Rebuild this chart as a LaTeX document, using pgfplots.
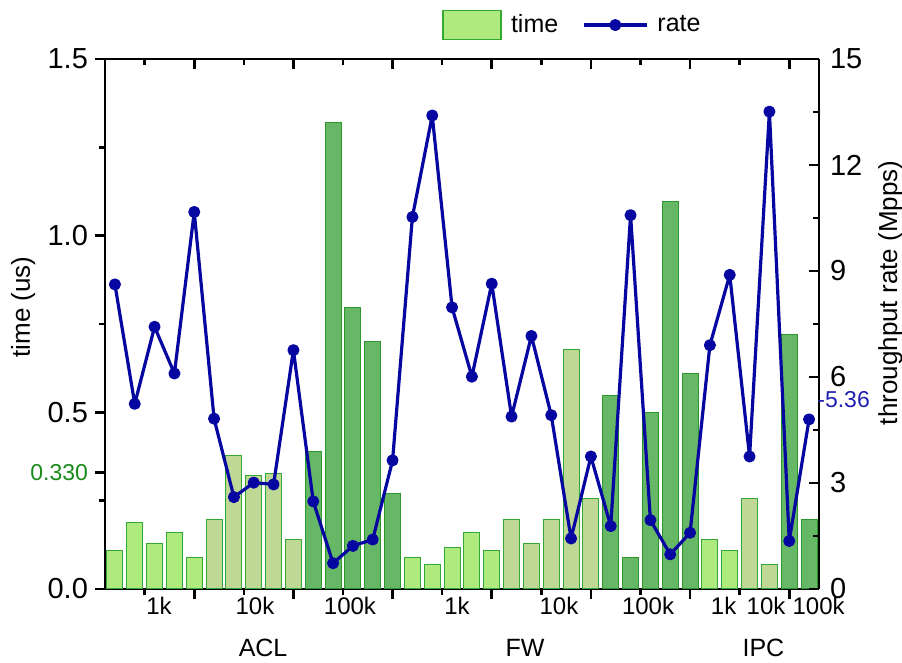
\documentclass[border=0pt]{standalone}
\usepackage{fontspec}
\setmainfont{Liberation Sans}
\usepackage{pgfplots}
\pgfplotsset{compat=1.18}
\usepackage{pgfplotstable}

\definecolor{lightg}{HTML}{AFEA7F}
\definecolor{oliveg}{HTML}{C0D896}
\definecolor{darkg}{HTML}{66B866}
\definecolor{edgeg}{HTML}{34A834}
\definecolor{edged}{HTML}{2A982A}
\definecolor{rateblue}{HTML}{0606A0}
\definecolor{labgreen}{HTML}{1A8A1A}
\definecolor{labblue}{HTML}{2020B0}

\pgfplotstableread{
x t
1 0.110
2 0.189
3 0.128
4 0.159
5 0.088
16 0.088
17 0.068
18 0.118
19 0.159
20 0.110
31 0.139
32 0.110
}\lightdata
\pgfplotstableread{
x t
6 0.198
7 0.378
8 0.320
9 0.328
10 0.139
21 0.198
22 0.128
23 0.198
24 0.678
25 0.257
33 0.257
34 0.068
}\olivedata
\pgfplotstableread{
x t
11 0.388
12 1.319
13 0.798
14 0.700
15 0.269
26 0.549
27 0.088
28 0.499
29 1.098
30 0.609
35 0.719
36 0.198
}\darkdata
\pgfplotstableread{
x r
1 8.62
2 5.24
3 7.42
4 6.10
5 10.67
6 4.82
7 2.60
8 3.01
9 2.96
10 6.76
11 2.48
12 0.73
13 1.22
14 1.40
15 3.64
16 10.53
17 13.40
18 7.97
19 6.01
20 8.64
21 4.88
22 7.16
23 4.92
24 1.43
25 3.75
26 1.78
27 10.58
28 1.95
29 0.98
30 1.59
31 6.90
32 8.89
33 3.75
34 13.51
35 1.36
36 4.80
}\ratedata

\pgfplotsset{
  common/.style={
    scale only axis, width=357pt, height=265pt,
    xmin=0.5, xmax=36.5,
    clip=false,
    axis line style={line width=1.3pt,-},
    every outer x axis line/.append style={-},
    every outer y axis line/.append style={-},
    every tick/.style={line width=1.3pt, black},
    major tick length=5pt, minor tick length=3pt,
    xtick={5,10,...,35}, minor xtick={2.5,7.5,...,32.5},
    xticklabels={},
    /pgf/number format/assume math mode=true,
  },
  boxlegend/.style={legend image code/.code={\draw[##1] (0pt,-7.25pt) rectangle (29pt,7.25pt);}},
  linelegend/.style={legend image code/.code={\draw[mark repeat=2,mark phase=2,##1] plot coordinates {(0pt,0pt) (15.75pt,0pt) (31.5pt,0pt)};}},
}

\begin{document}
\begin{tikzpicture}
\useasboundingbox (-52.5pt,-37pt) rectangle (398.5pt,294.5pt);
\begin{axis}[common,
  axis x line*=bottom, axis y line*=left,
  tick align=outside,
  ymin=0, ymax=1.5,
  ytick={0,0.5,1,1.5}, minor ytick={0.25,0.75,1.25},
  /pgf/number format/fixed, /pgf/number format/fixed zerofill, /pgf/number format/precision=1,
  yticklabel style={font=\fontsize{14.5}{16}\selectfont},
  extra y ticks={0.33}, extra y tick labels={0.330},
  extra y tick style={yticklabel style={font=\fontsize{11.5}{13}\selectfont, text=labgreen}},
  extra x ticks={3.22,8.06,12.85,18.25,23.39,27.88,31.69,33.83,36.48},
  extra x tick labels={1k,10k,100k,1k,10k,100k,1k,10k,100k},
  extra x tick style={major tick length=0pt,
    xticklabel style={font=\fontsize{12}{14}\selectfont, yshift=-3pt, inner ysep=1pt}},
]
\addplot[ybar, bar width=8pt, bar shift=0pt, fill=lightg, draw=edgeg, line width=0.5pt] table[x=x,y=t] {\lightdata};
\addplot[ybar, bar width=8pt, bar shift=0pt, fill=oliveg, draw=edgeg, line width=0.5pt] table[x=x,y=t] {\olivedata};
\addplot[ybar, bar width=8pt, bar shift=0pt, fill=darkg, draw=edged, line width=0.5pt] table[x=x,y=t] {\darkdata};
\node[font=\fontsize{12.5}{14}\selectfont] at (axis cs:8.47,-0.167) {ACL};
\node[font=\fontsize{12.5}{14}\selectfont] at (axis cs:21.68,-0.167) {FW};
\node[font=\fontsize{12.5}{14}\selectfont] at (axis cs:33.7,-0.167) {IPC};
\node[rotate=90, font=\fontsize{13}{15}\selectfont] at (axis cs:-3.63,0.798) {time (us)};
\end{axis}
\begin{axis}[common,
  axis x line*=top, axis y line*=right,
  tick align=inside,
  ymin=0, ymax=15,
  ytick={0,3,...,15}, minor ytick={1.5,4.5,...,13.5},
  yticklabel style={font=\fontsize{14.5}{16}\selectfont, xshift=2pt, inner ysep=0pt},
  extra y ticks={5.36}, extra y tick labels={-5.36},
  extra y tick style={major tick length=0pt,
    yticklabel style={font=\fontsize{11.5}{13}\selectfont, text=labblue, xshift=-4pt, inner xsep=1pt}},
  legend style={at={(0.472,1.064)}, anchor=west, draw=none, fill=none,
    font=\fontsize{12.5}{14}\selectfont, inner sep=0pt,
    /tikz/every odd column/.append style={column sep=2.5pt},
    /tikz/every even column/.append style={column sep=10pt}},
  legend columns=2,
]
\addlegendimage{boxlegend, fill=lightg, draw=edgeg, line width=0.8pt}
\addlegendentry{time}
\addplot[rateblue, line width=1.6pt, line join=round, mark=*, mark size=2.2pt, linelegend]
  table[x=x,y=r] {\ratedata};
\addlegendentry{rate}
\node[rotate=90, font=\fontsize{13}{15}\selectfont, inner sep=1pt] at (axis cs:40.1,8.38) {throughput rate (Mpps)};
\end{axis}
\end{tikzpicture}
\end{document}
